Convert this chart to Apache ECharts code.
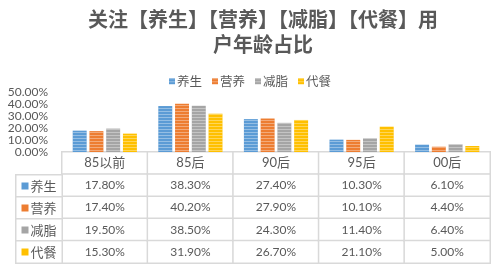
<!DOCTYPE html>
<html><head><meta charset="utf-8">
<script src="https://cdn.jsdelivr.net/npm/echarts@6/dist/echarts.min.js"></script>
<style>html,body{margin:0;padding:0;background:#fff}#c{width:500px;height:278px}</style>
</head><body><div id="c"></div>
<script>
var titleText = '关注【养生】【营养】【减脂】【代餐】用\n户年龄占比';
var categories = ['85以前', '85后', '90后', '95后', '00后'];
var seriesNames = ['养生', '营养', '减脂', '代餐'];
var yangsheng = [17.8, 38.3, 27.4, 10.3, 6.1];
var yingyang = [17.4, 40.2, 27.9, 10.1, 4.4];
var jianzhi = [19.5, 38.5, 24.3, 11.4, 6.4];
var daican = [15.3, 31.9, 26.7, 21.1, 5.0];
var yTicks = [0, 10, 20, 30, 40, 50];

var values = [yangsheng, yingyang, jianzhi, daican];
var colors = ['#5B9BD5', '#ED7D31', '#A5A5A5', '#FFC000'];
var txt = '#595959';
var font = "Lato, 'Noto Sans CJK SC', sans-serif";
var cjk = "'Noto Sans CJK SC', sans-serif";

var barSeries = seriesNames.map(function (n, i) {
  return {
    name: n, type: 'bar', xAxisIndex: 0, yAxisIndex: 0,
    data: values[i], barGap: '20%', barCategoryGap: '25%',
    itemStyle: {
      color: colors[i],
      decal: { symbol: 'rect', symbolSize: 1, dashArrayX: [[1, 0]], dashArrayY: [1, 1.5], color: 'rgba(255,255,255,0.35)' }
    },
    emphasis: { disabled: true }
  };
});

var tableData = [];
categories.forEach(function (c, i) {
  tableData.push([i, 0, 0]);
  values.forEach(function (arr, r) { tableData.push([i, r + 1, arr[i]]); });
});

var legendRich = { t: { fontSize: 13, color: txt, fontFamily: cjk, padding: [0, 0, 0, 2] } };
seriesNames.forEach(function (n, r) { legendRich['s' + r] = { width: 7, height: 7, backgroundColor: colors[r] }; });
var legendData = seriesNames.map(function (n, r) { return [0, r, r]; });

var chart = echarts.init(document.getElementById('c'));
chart.setOption({
  animation: false,
  title: {
    text: titleText, left: 258, top: 2, textAlign: 'center',
    textStyle: { fontSize: 20, fontWeight: 'bold', color: txt, fontFamily: cjk, lineHeight: 25 }
  },
  legend: {
    data: seriesNames, top: 70, left: 'center', icon: 'rect', itemWidth: 6, itemHeight: 6, itemGap: 10,
    textStyle: { fontSize: 12.5, color: txt, fontFamily: cjk, padding: [0, 0, 0, -3] }
  },
  grid: [
    { left: 62, right: 10, top: 92, bottom: 126 },
    { left: 62, right: 10, top: 152, bottom: 15 },
    { left: 16, width: 46, top: 175, bottom: 15 }
  ],
  xAxis: [
    { type: 'category', gridIndex: 0, data: categories, axisLine: { lineStyle: { color: '#d9d9d9', width: 1.5 } }, axisTick: { show: false }, axisLabel: { show: false } },
    { type: 'category', gridIndex: 1, data: categories, show: false },
    { type: 'category', gridIndex: 2, data: [''], show: false }
  ],
  yAxis: [
    { type: 'value', gridIndex: 0, min: yTicks[0], max: yTicks[yTicks.length - 1], interval: 10, splitLine: { show: false },
      axisLabel: { formatter: function (v) { return v.toFixed(2) + '%'; }, color: txt, fontSize: 12, fontFamily: font, margin: 14 } },
    { type: 'category', gridIndex: 1, data: [''].concat(seriesNames), inverse: true, show: false },
    { type: 'category', gridIndex: 2, data: seriesNames, inverse: true, show: false }
  ],
  series: barSeries.concat([
    {
      type: 'heatmap', xAxisIndex: 1, yAxisIndex: 1, data: tableData,
      itemStyle: { color: '#fff', borderColor: '#d9d9d9', borderWidth: 1.5 },
      emphasis: { disabled: true },
      label: {
        show: true, color: txt, fontFamily: font, fontSize: 12,
        formatter: function (p) {
          return p.data[1] === 0 ? '{h|' + categories[p.data[0]] + '}' : p.data[2].toFixed(2) + '%';
        },
        rich: { h: { fontSize: 13, color: txt, fontFamily: font } }
      }
    },
    {
      type: 'heatmap', xAxisIndex: 2, yAxisIndex: 2, data: legendData,
      itemStyle: { color: '#fff', borderColor: '#d9d9d9', borderWidth: 1.5 },
      emphasis: { disabled: true },
      label: {
        show: true,
        formatter: function (p) { return '{s' + p.data[1] + '|}{t|' + seriesNames[p.data[1]] + '}'; },
        rich: legendRich
      }
    }
  ])
});
</script></body></html>
